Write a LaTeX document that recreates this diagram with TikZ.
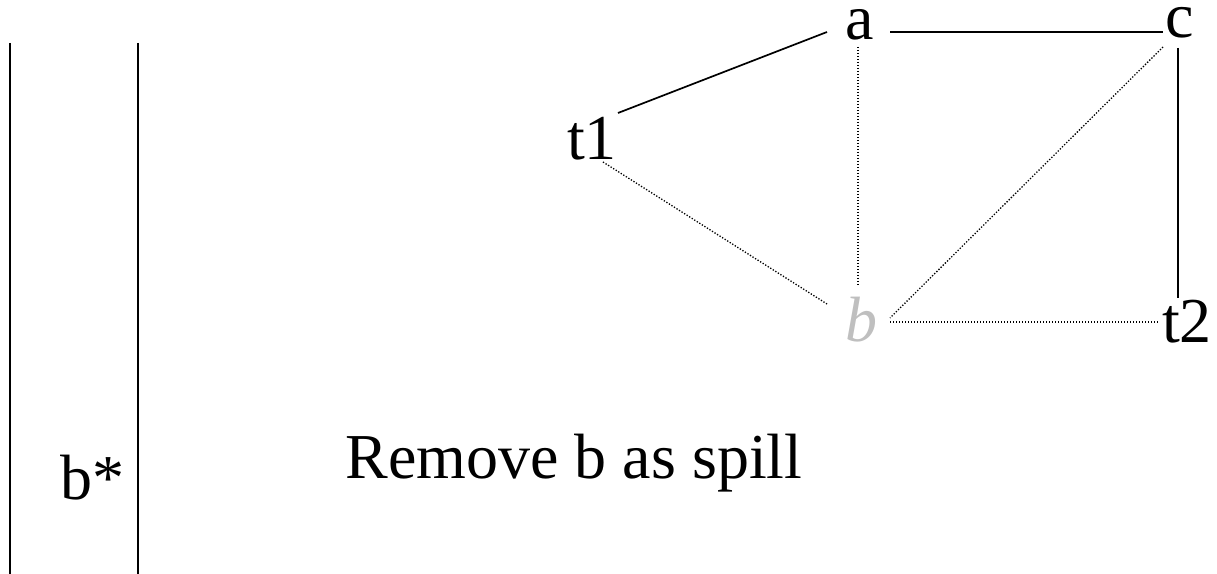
\documentclass[tikz,border=0pt]{standalone}
\usepackage{fontspec}
\setmainfont{Liberation Serif}
\begin{document}
\begin{tikzpicture}[x=1bp,y=1bp,
  lbl/.style={inner sep=0pt, anchor=base, font=\fontsize{64bp}{70bp}\selectfont},
  solidedge/.style={line width=1.7bp},
  dotedge/.style={line width=1.3bp, dash pattern=on 1.3bp off 1.7bp},
  stackline/.style={line width=1.5bp}]
\useasboundingbox (0,0) rectangle (1217,574);
% stack
\coordinate (s1t) at (10,531);
\coordinate (s1b) at (10,0);
\coordinate (s2t) at (138,531);
\coordinate (s2b) at (138,0);
\draw[stackline] (s1t) -- (s1b);
\draw[stackline] (s2t) -- (s2b);
\node[lbl] (bstar) at (92,74) {b*};
% caption
\node[lbl] (cap) at (574,95) {Remove b as spill};
% graph nodes
\node[lbl] (t1) at (592,414) {t1};
\node[lbl] (a) at (860,534) {a};
\node[lbl] (c) at (1180,536) {c};
\node[lbl, text=gray!50] (b) at (861,232) {\itshape b};
\node[lbl] (t2) at (1187,231) {t2};
% edges
\draw[solidedge] ([shift={(26,47)}]t1.base) -- ([shift={(-33,8)}]a.base);
\draw[solidedge] ([shift={(30,8)}]a.base) -- ([shift={(-17,6)}]c.base);
\draw[solidedge] ([shift={(-2,-10)}]c.base) -- ([shift={(-9,45)}]t2.base);
\draw[dotedge] ([shift={(-2,-7)}]a.base) -- ([shift={(-3,57)}]b.base);
\draw[dotedge] ([shift={(-17,-9)}]c.base) -- ([shift={(29,24)}]b.base);
\draw[dotedge] ([shift={(29,20)}]b.base) -- ([shift={(-29,21)}]t2.base);
\draw[dotedge] ([shift={(11,-2)}]t1.base) -- ([shift={(-34,38)}]b.base);
\end{tikzpicture}
\end{document}
